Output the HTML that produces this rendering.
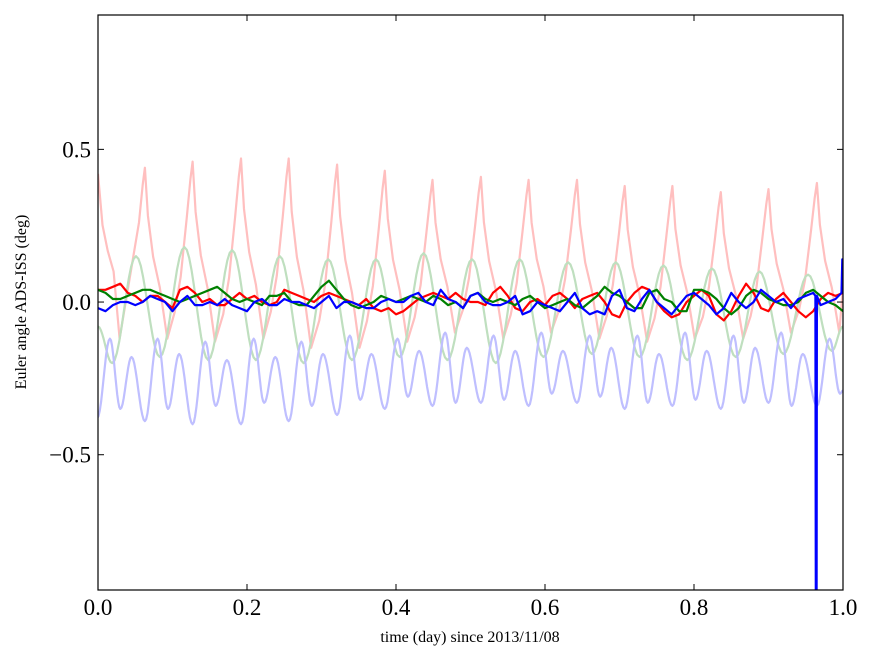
<!DOCTYPE html>
<html><head><meta charset="utf-8"><style>
body{margin:0;background:#fff;}
svg{display:block;font-family:"Liberation Serif",serif;}
</style></head><body>
<svg id="chart" width="875" height="662" viewBox="0 0 875 662">
<defs><clipPath id="clip"><rect x="98" y="15" width="745" height="575"/></clipPath></defs>
<rect x="0" y="0" width="875" height="662" fill="#fff"/>
<g id="series" clip-path="url(#clip)"></g>
<rect x="98" y="15" width="745" height="575" fill="none" stroke="#000" stroke-width="1.2"/>
<g id="ticks"></g>
<text x="470" y="642" font-size="16" text-anchor="middle">time (day) since 2013/11/08</text>
<text x="26" y="302" font-size="16" text-anchor="middle" transform="rotate(-90 26 302)">Euler angle ADS-ISS (deg)</text>
</svg>
<script>
const xTicks=[0,0.2,0.4,0.6,0.8,1.0];
const xTickLabels=["0.0","0.2","0.4","0.6","0.8","1.0"];
const yTicks=[0.5,0,-0.5];
const yTickLabels=["0.5","0.0","\u22120.5"];
const redPeakT=[0.063,0.127,0.192,0.256,0.321,0.385,0.449,0.514,0.578,0.643,0.707,0.771,0.836,0.900,0.965];
const redPeakV=[0.44,0.46,0.47,0.47,0.45,0.43,0.40,0.41,0.40,0.40,0.38,0.38,0.36,0.37,0.39];
const redTroughV=[-0.12,-0.13,-0.12,-0.15,-0.15,-0.13,-0.10,-0.12,-0.10,-0.12,-0.13,-0.12,-0.12,-0.10,-0.10];
const redStartV=0.42, redEndV=0.05;
const greenPeakT=[0.051,0.116,0.180,0.244,0.309,0.373,0.437,0.502,0.566,0.631,0.695,0.759,0.824,0.888,0.953];
const greenPeakV=[0.15,0.18,0.17,0.15,0.14,0.14,0.16,0.14,0.14,0.13,0.13,0.12,0.11,0.10,0.09];
const greenTroughV=[-0.18,-0.19,-0.19,-0.2,-0.19,-0.18,-0.19,-0.2,-0.18,-0.17,-0.18,-0.19,-0.18,-0.17,-0.16];
const greenStartV=-0.08, greenFirstTroughV=-0.20, greenEndV=-0.08;
const blueCycleT=[-0.001,0.063,0.127,0.192,0.256,0.321,0.385,0.449,0.514,0.578,0.643,0.707,0.771,0.836,0.900,0.965];
const blueDip1=[-0.38,-0.39,-0.40,-0.40,-0.39,-0.37,-0.35,-0.34,-0.33,-0.34,-0.33,-0.35,-0.34,-0.35,-0.33,-0.34];
const bluePeak1=[-0.12,-0.12,-0.13,-0.12,-0.13,-0.11,-0.12,-0.10,-0.11,-0.10,-0.11,-0.11,-0.10,-0.11,-0.10,-0.12];
const blueDip2=[-0.35,-0.35,-0.34,-0.33,-0.34,-0.32,-0.31,-0.33,-0.32,-0.30,-0.31,-0.33,-0.32,-0.33,-0.34,-0.30];
const bluePeak2=[-0.18,-0.17,-0.19,-0.18,-0.17,-0.17,-0.16,-0.15,-0.16,-0.16,-0.15,-0.17,-0.16,-0.15,-0.17,-0.20];
const darkRed=[0.04,0.04,0.05,0.06,0.03,0.02,0.00,0.02,0.02,0.00,-0.02,
0.04,0.05,0.03,0.00,0.01,-0.01,-0.01,0.01,0.03,0.01,
0.02,0.00,-0.01,0.00,0.04,0.03,0.02,0.01,0.00,0.02,
0.03,0.02,0.01,0.00,-0.01,0.01,-0.02,-0.03,-0.02,-0.04,
-0.03,-0.01,0.01,0.02,0.03,0.02,0.01,0.03,0.01,0.00,
0.00,-0.01,0.03,0.05,0.02,-0.02,-0.03,0.00,0.01,-0.01,
0.02,0.03,0.01,-0.02,0.01,0.02,0.03,0.00,-0.04,-0.05,
0.00,0.03,0.05,0.04,0.00,-0.03,-0.05,-0.04,0.00,0.02,
0.04,0.02,-0.04,-0.06,-0.03,0.02,0.06,0.03,-0.02,-0.03,
0.01,0.03,0.00,-0.03,-0.05,-0.03,0.01,0.03,0.02,0.03];
const darkGreen=[0.04,0.03,0.01,0.01,0.02,0.03,0.04,0.04,0.03,0.02,0.01,
0.00,0.01,0.02,0.03,0.04,0.05,0.03,0.01,0.00,0.01,
0.00,-0.01,0.02,0.02,0.03,0.00,-0.01,-0.01,0.02,0.05,
0.07,0.04,0.01,-0.01,-0.02,-0.01,0.00,0.02,0.01,0.00,
0.01,0.02,0.01,0.00,0.02,0.01,-0.01,0.00,-0.02,0.02,
0.03,0.01,0.00,0.01,0.00,-0.01,0.01,0.02,0.00,-0.02,
-0.01,0.00,0.01,-0.01,-0.02,0.00,0.02,0.05,0.03,0.02,
0.00,-0.02,-0.02,0.03,0.04,0.01,0.00,-0.03,-0.03,0.04,
0.04,0.03,0.01,-0.02,-0.04,-0.02,0.02,0.04,0.03,0.01,
0.00,-0.01,-0.01,0.00,0.03,0.04,0.02,0.00,-0.01,-0.03];
const darkBlue=[-0.02,-0.03,-0.01,0.00,0.00,-0.01,0.00,0.02,0.01,0.00,-0.03,
0.00,0.02,-0.01,-0.01,0.00,-0.01,0.01,-0.01,-0.02,-0.03,
0.00,0.01,-0.01,-0.01,0.01,0.00,0.00,-0.01,-0.02,0.00,
0.02,-0.02,0.00,0.00,-0.01,-0.02,-0.02,0.00,0.01,0.00,
0.00,0.02,0.03,0.00,-0.01,0.04,0.01,0.00,-0.02,0.02,
0.03,0.00,-0.01,-0.01,0.00,0.02,-0.04,-0.03,0.00,-0.01,
-0.02,-0.03,0.00,0.03,-0.02,-0.04,-0.03,-0.04,0.02,0.04,
-0.02,-0.03,0.01,0.04,0.00,-0.02,-0.04,-0.01,0.02,0.03,
0.01,-0.01,-0.04,-0.02,0.03,0.00,-0.02,0.00,0.04,0.02,
0.00,0.01,-0.02,0.01,0.02,0.03,-0.01,0.00,0.01,0.03];
const blueSpikeT=[0.963,0.9635,0.9645,0.965,0.998,0.999];
const blueSpikeV=[0.02,-0.95,-0.95,0.02,0.03,0.14];

const X0=98,X1=843,Y0=15,Y1=590,YMIN=-0.943,YMAX=0.94;
const sx=t=>X0+(t-0)/(1-0)*(X1-X0);
const sy=v=>Y1-(v-YMIN)/(YMAX-YMIN)*(Y1-Y0);
const NS="http://www.w3.org/2000/svg";
const gS=document.getElementById('series'), gT=document.getElementById('ticks');
function mk(tag,attrs,parent){const e=document.createElementNS(NS,tag);for(const k in attrs)e.setAttribute(k,attrs[k]);parent.appendChild(e);return e;}
function linePath(pts){return pts.map((p,i)=>(i?'L':'M')+sx(p[0]).toFixed(1)+' '+sy(p[1]).toFixed(1)).join('');}
function smoothPts(ext){const out=[];for(let i=0;i<ext.length-1;i++){const a=ext[i],b=ext[i+1];for(let j=0;j<10;j++){const f=j/10,w=(1-Math.cos(Math.PI*f))/2;out.push([a[0]+(b[0]-a[0])*f,a[1]+(b[1]-a[1])*w]);}}out.push(ext[ext.length-1]);return out;}
function addPath(d,color,w,name){const p=mk('path',{d:d,fill:'none',stroke:color,'stroke-width':w,'stroke-linejoin':'round'},gS);

}

// light red
let lr=[[0,redStartV],[0.006,redStartV*0.6],[0.013,redStartV*0.4],[0.021,0.1],[0.029,redTroughV[0]]];
for(let k=0;k<redPeakT.length;k++){const tp=redPeakT[k],tr=k?redTroughV[k-1]:redTroughV[0],h=redPeakV[k],tn=redTroughV[k];
 if(k>0){lr.push([tp-0.024,tr+(h-tr)*0.15]);lr.push([tp-0.016,tr+(h-tr)*0.35]);}
 lr.push([tp-0.008,tr+(h-tr)*0.68]);lr.push([tp-0.003,tr+(h-tr)*0.9]);lr.push([tp,h]);lr.push([tp+0.004,tn+(h-tn)*0.72]);lr.push([tp+0.011,tn+(h-tn)*0.48]);lr.push([tp+0.02,tn+(h-tn)*0.3]);
 if(tp+0.030<1)lr.push([tp+0.030,tn]);}
lr=lr.filter(p=>p[0]<1);lr.push([1,redEndV]);
addPath(linePath(lr),'#ffbfbf',2.2,'series-light-red');
// light green
let ge=[[0,greenStartV],[0.019,greenFirstTroughV]];
for(let k=0;k<greenPeakT.length;k++){ge.push([greenPeakT[k],greenPeakV[k]]);if(greenPeakT[k]+0.032<1)ge.push([greenPeakT[k]+0.032,greenTroughV[k]]);}
ge.push([1,greenEndV]);
addPath(linePath(smoothPts(ge)),'#bfdfbf',2.2,'series-light-green');
// light blue
let be=[];
for(let k=0;k<blueCycleT.length;k++){const tp=blueCycleT[k];be.push([tp,blueDip1[k]]);be.push([tp+0.017,bluePeak1[k]]);be.push([tp+0.031,blueDip2[k]]);be.push([tp+0.046,bluePeak2[k]]);}
be=be.filter(p=>p[0]<1);be.push([1,-0.29]);
addPath(linePath(smoothPts(be)),'#bfbfff',2.2,'series-light-blue');
// dark series
const dr=darkRed.map((v,i)=>[i/100,v]);
addPath(linePath(dr),'#ff0000',2.2,'series-red');
const dg=darkGreen.map((v,i)=>[i/100,v]);
addPath(linePath(dg),'#008000',2.2,'series-green');
let db=darkBlue.map((v,i)=>[i/100,v]);
blueSpikeT.forEach((t,i)=>db.push([t,blueSpikeV[i]]));
db.sort((a,b)=>a[0]-b[0]);
addPath(linePath(db),'#0000ff',2.2,'series-blue');

xTicks.forEach((t,i)=>{const x=sx(t);
 const a=mk('line',{x1:x,x2:x,y1:Y1,y2:Y1-6,stroke:'#000'},gT);
 
 
 const b=mk('line',{x1:x,x2:x,y1:Y0,y2:Y0+6,stroke:'#000'},gT);
 
 
 const tx=mk('text',{x:x,y:615,'font-size':23,'text-anchor':'middle'},gT);tx.textContent=xTickLabels[i];
 
 });
yTicks.forEach((v,i)=>{const y=sy(v);
 const a=mk('line',{x1:X0,x2:X0+6,y1:y,y2:y,stroke:'#000'},gT);
 
 
 const b=mk('line',{x1:X1,x2:X1-6,y1:y,y2:y,stroke:'#000'},gT);
 
 
 const tx=mk('text',{x:91,y:y+8,'font-size':23,'text-anchor':'end'},gT);tx.textContent=yTickLabels[i];
 
 });
</script>
</body></html>
